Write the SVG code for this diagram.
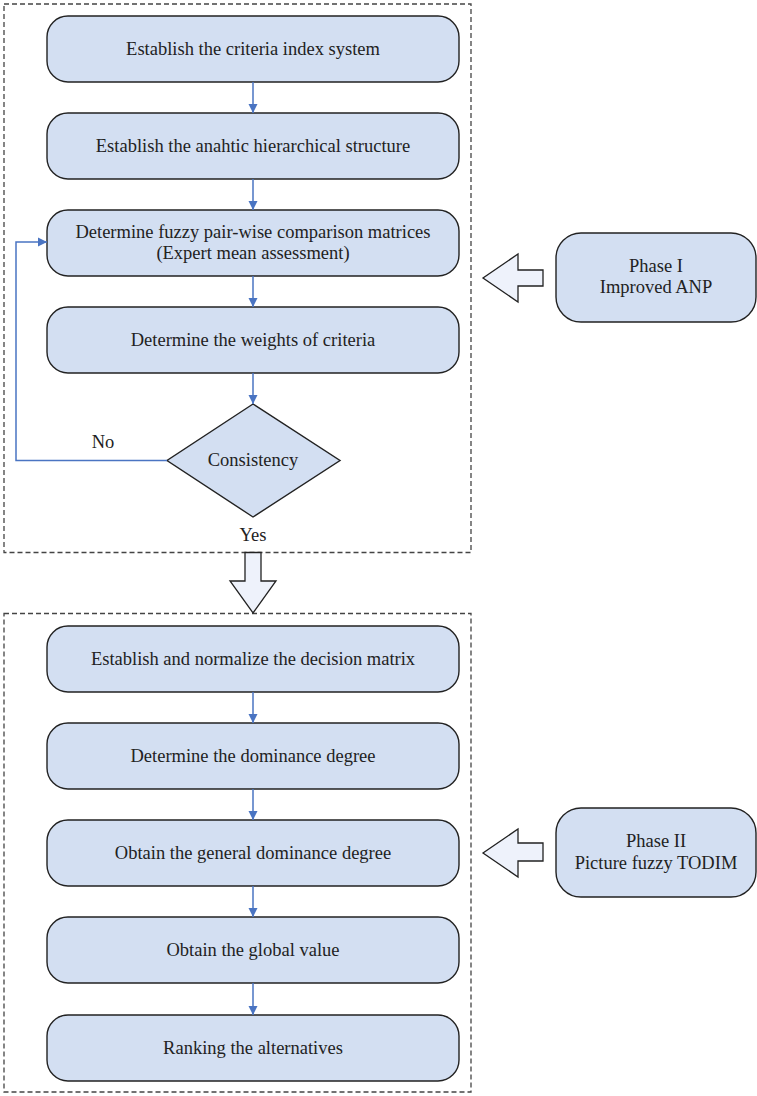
<svg xmlns="http://www.w3.org/2000/svg" width="757" height="1096" viewBox="0 0 757 1096">
<style>
.frame{fill:none;stroke:#444;stroke-width:1.3;stroke-dasharray:5,3}
.box{fill:#D3DFF2;stroke:#222;stroke-width:1.4}
.big{fill:#EEF2FB;stroke:#222;stroke-width:1.3}
.t{font-family:'Liberation Serif','DejaVu Serif','Times New Roman',serif;font-size:18.5px;fill:#222;text-anchor:middle}
.c{fill:none;stroke:#4A74C2;stroke-width:1.5}
</style>
<defs>
<marker id="ah" markerWidth="10" markerHeight="12" refX="9" refY="5" orient="auto" markerUnits="userSpaceOnUse">
<path d="M0,0 L10,5 L0,10 Z" fill="#4A74C2" transform="translate(-1,0)"/>
</marker>
</defs>
<rect class="frame" x="4" y="4" width="467" height="548.5"/>
<rect class="frame" x="4" y="613.5" width="467" height="478.5"/>
<g id="n1"><rect class="box" x="47" y="16" width="412" height="66" rx="21"/><text class="t" x="253" y="55">Establish the criteria index system</text></g>
<g id="n2"><rect class="box" x="47" y="113" width="412" height="66" rx="21"/><text class="t" x="253" y="152">Establish the anahtic hierarchical structure</text></g>
<g id="n3"><rect class="box" x="47" y="210" width="412" height="66" rx="21"/><text class="t" x="253" y="238">Determine fuzzy pair-wise comparison matrices</text><text class="t" x="253" y="259">(Expert mean assessment)</text></g>
<g id="n4"><rect class="box" x="47" y="307" width="412" height="66" rx="21"/><text class="t" x="253" y="346">Determine the weights of criteria</text></g>
<g id="n5"><polygon class="box" points="253,404 340,460.5 253,517 167,460.5"/><text class="t" x="253" y="466">Consistency</text></g>
<g id="n6"><rect class="box" x="47" y="626" width="412" height="66" rx="21"/><text class="t" x="253" y="665">Establish and normalize the decision matrix</text></g>
<g id="n7"><rect class="box" x="47" y="723" width="412" height="66" rx="21"/><text class="t" x="253" y="762">Determine the dominance degree</text></g>
<g id="n8"><rect class="box" x="47" y="820" width="412" height="66" rx="21"/><text class="t" x="253" y="859">Obtain the general dominance degree</text></g>
<g id="n9"><rect class="box" x="47" y="917" width="412" height="66" rx="21"/><text class="t" x="253" y="956">Obtain the global value</text></g>
<g id="n10"><rect class="box" x="47" y="1015" width="412" height="66" rx="21"/><text class="t" x="253" y="1054">Ranking the alternatives</text></g>
<g id="p1"><rect class="box" x="556" y="233" width="200" height="89" rx="25"/><text class="t" x="656" y="272">Phase I</text><text class="t" x="656" y="293">Improved ANP</text></g>
<g id="p2"><rect class="box" x="556" y="808" width="200" height="89" rx="25"/><text class="t" x="656" y="847">Phase II</text><text class="t" x="656" y="869">Picture fuzzy TODIM</text></g>
<g id="connectors">
<path class="c" d="M253,82 V113" marker-end="url(#ah)"/>
<path class="c" d="M253,179 V210" marker-end="url(#ah)"/>
<path class="c" d="M253,276 V307" marker-end="url(#ah)"/>
<path class="c" d="M253,373 V404" marker-end="url(#ah)"/>
<path class="c" d="M167,460.5 H16 V242 H47" marker-end="url(#ah)"/>
<path class="c" d="M253,692 V723" marker-end="url(#ah)"/>
<path class="c" d="M253,789 V820" marker-end="url(#ah)"/>
<path class="c" d="M253,886 V917" marker-end="url(#ah)"/>
<path class="c" d="M253,983 V1015" marker-end="url(#ah)"/>
<polygon class="big" points="245,552.5 261,552.5 261,581 276,581 253,613 230,581 245,581"/>
<polygon class="big" points="543,270 518,270 518,254 483,278 518,302 518,286 543,286"/>
<polygon class="big" points="543,843 518,843 518,829 483,853 518,877 518,861 543,861"/>
<text class="t" x="103" y="448">No</text>
<text class="t" x="253" y="541">Yes</text>
</g>
</svg>
